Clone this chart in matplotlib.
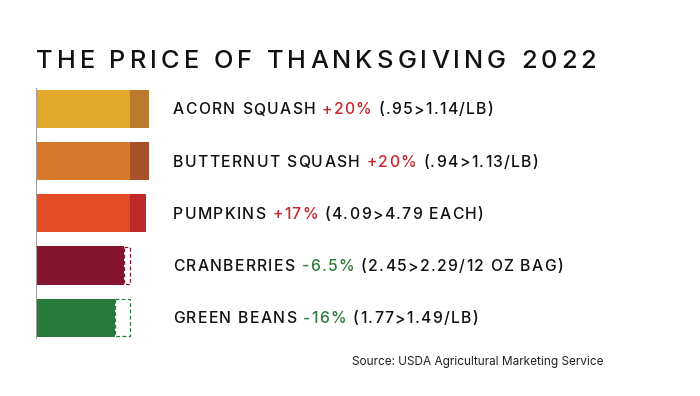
import numpy as np
import matplotlib.pyplot as plt

# data
items = ["ACORN SQUASH", "BUTTERNUT SQUASH", "PUMPKINS", "CRANBERRIES", "GREEN BEANS"]
change_pct = [20, 20, 17, -6.5, -16]
change_txt = ["+20%", "+20%", "+17%", "-6.5%", "-16%"]
price_txt = ["(.95>1.14/LB)", "(.94>1.13/LB)", "(4.09>4.79 EACH)",
             "(2.45>2.29/12 OZ BAG)", "(1.77>1.49/LB)"]
base_colors = ["#E2A829", "#D6792B", "#E44C25", "#85142E", "#267A3B"]
up_colors = ["#BD7A2C", "#A8502A", "#BE2A2A", None, None]

W, H = 700, 396
fig = plt.figure(figsize=(W / 100, H / 100), dpi=100)
renderer = fig.canvas.get_renderer()
font = "Inter"


def spaced_text(x, y, s, size, color, track, weight="medium"):
    # draw text char by char with extra letter spacing (pixels, top-left origin)
    for ch in s:
        t = fig.text(x / W, 1 - y / H, ch, fontsize=size, family=font,
                     weight=weight, color=color, va="baseline", ha="left")
        x = t.get_window_extent(renderer).x1 + track
    return x


spaced_text(36, 68.5, "THE PRICE OF THANKSGIVING 2022", 18.3, "#111111", 4.0)

# bar axes: value 1.0 spans 94 px starting at x=36
unit = 94
ax = fig.add_axes([36 / W, 1 - 338.6 / H, unit * 1.25 / W, 250.6 / H])
ax.set_xlim(0, 1.25)
ax.set_ylim(4.4, -0.4)
ax.axis("off")
ax.axvline(0, color="#A0A0A0", lw=1.5)

y = np.arange(len(items))
for i in range(len(items)):
    new = 1 + change_pct[i] / 100
    if change_pct[i] > 0:
        ax.barh(y[i], 1, height=0.73, color=base_colors[i])
        ax.barh(y[i], new - 1, left=1, height=0.73, color=up_colors[i])
    else:
        ax.barh(y[i], new, height=0.73, color=base_colors[i])
        ax.barh(y[i], 1 - new, left=new, height=0.71, fill=False,
                edgecolor=base_colors[i], linestyle=(0, (3, 2)), lw=0.9)

    # label with coloured change
    base_y = 114.5 + 52.2 * i
    ccol = "#C8252C" if change_pct[i] > 0 else "#2E7D3B"
    x = spaced_text(173, base_y, items[i] + " ", 11.3, "#111111", 1.32)
    x = spaced_text(x, base_y, change_txt[i] + " ", 11.3, ccol, 1.32)
    spaced_text(x, base_y, price_txt[i], 11.3, "#111111", 1.32)

fig.text(604 / W, 1 - 362 / H, "Source: USDA Agricultural Marketing Service",
         fontsize=8.5, family=font, color="#222222", ha="right", va="center")

fig.savefig("out.png", dpi=100, facecolor="white")
